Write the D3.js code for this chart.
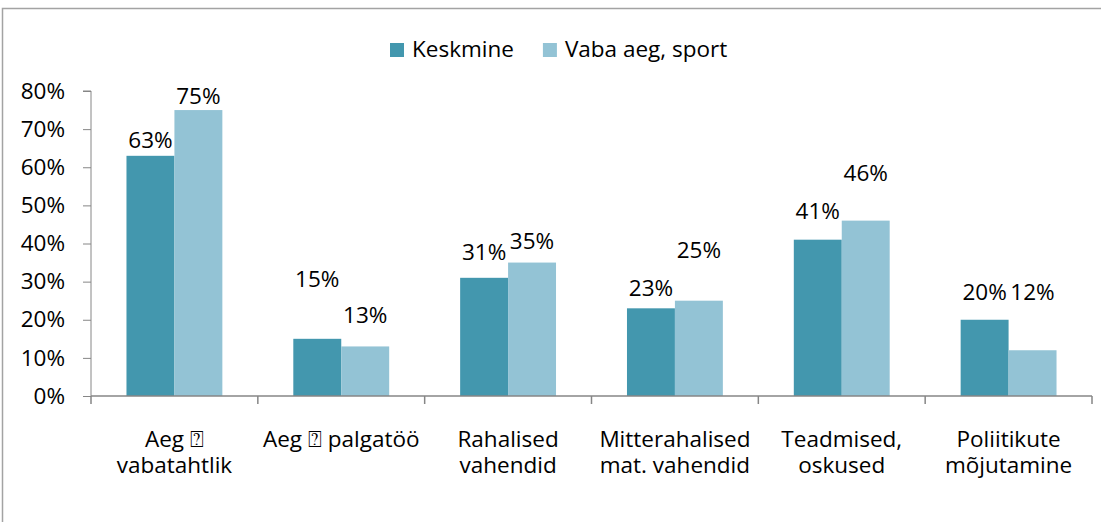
<!DOCTYPE html>
<html>
<head>
<meta charset="utf-8">
<script src="https://cdn.jsdelivr.net/npm/d3@7"></script>
<style>
    html, body { margin: 0; padding: 0; background: #fff; }
    #chart-area { width: 1101px; height: 522px; }
    text { font-family: "Open Sans", Lato, sans-serif; fill: #000; }
</style>
</head>
<body>
<div id="chart-area"></div>
<script>
// chart data
const categories = [
    ['Aeg \u2370', 'vabatahtlik'],
    ['Aeg \u2370 palgatöö'],
    ['Rahalised', 'vahendid'],
    ['Mitterahalised', 'mat. vahendid'],
    ['Teadmised,', 'oskused'],
    ['Poliitikute', 'mõjutamine']
];
const seriesNames = ['Keskmine', 'Vaba aeg, sport'];
const keskmine = [63, 15, 31, 23, 41, 20];
const vabaAeg = [75, 13, 35, 25, 46, 12];
const yTicks = [0, 10, 20, 30, 40, 50, 60, 70, 80];

// label placement (px between bar top and label baseline), as in the original
const labelGapKeskmine = [8, 52, 18, 12, 21, 20];
const labelGapVabaAeg = [6, 23, 14, 43, 40, 50];

;(function () {
    'use strict';

    const WIDTH = 1101;
    const HEIGHT = 522;
    const PLOT = {left: 91, right: 1092, top: 91, bottom: 396};
    const colors = ['#4397ae', '#93c3d5'];
    const FONT = 22.5;

    const svg = d3.select('#chart-area').append('svg')
        .attr('width', WIDTH)
        .attr('height', HEIGHT);

    // outer frame (cut off at the right and bottom)
    svg.append('path')
        .attr('d', `M2.5,${HEIGHT} V8.5 H${WIDTH}`)
        .attr('fill', 'none')
        .attr('stroke', '#a3a3a3')
        .attr('stroke-width', 1.5);

    const x0 = d3.scaleBand()
        .domain(d3.range(categories.length))
        .range([PLOT.left, PLOT.right]);

    const x1 = d3.scaleBand()
        .domain(seriesNames)
        .range([0, x0.bandwidth()])
        .paddingInner(0)
        .paddingOuter(0.74);

    const y = d3.scaleLinear()
        .domain([0, 80])
        .range([PLOT.bottom, PLOT.top]);

    // y axis
    const yAxisGroup = svg.append('g')
        .attr('transform', `translate(${PLOT.left}, 0)`)
        .call(d3.axisLeft(y).tickValues(yTicks).tickSize(8).tickPadding(18).tickFormat(d => d + '%'));
    yAxisGroup.selectAll('line, path').attr('stroke', '#868686');
    yAxisGroup.select('.domain').attr('d', `M-8,${PLOT.top}H0V${PLOT.bottom}`);
    yAxisGroup.selectAll('text')
        .attr('font-size', FONT)
        .attr('font-family', '"Open Sans", sans-serif')
        .attr('fill', '#000');

    // bars
    const data = [keskmine, vabaAeg];
    const gaps = [labelGapKeskmine, labelGapVabaAeg];

    const groups = svg.selectAll('g.cat')
        .data(categories)
        .enter()
        .append('g')
        .attr('class', 'cat')
        .attr('transform', (d, i) => `translate(${x0(i)}, 0)`);

    groups.each(function (cat, i) {
        const g = d3.select(this);
        seriesNames.forEach((s, j) => {
            const v = data[j][i];
            g.append('rect')
                .attr('x', x1(s))
                .attr('y', y(v))
                .attr('width', x1.bandwidth())
                .attr('height', y(0) - y(v))
                .attr('fill', colors[j]);
            g.append('text')
                .attr('x', x1(s) + x1.bandwidth() / 2)
                .attr('y', y(v) - gaps[j][i])
                .attr('text-anchor', 'middle')
                .attr('font-size', FONT)
                .text(v + '%');
        });
    });

    // x axis
    svg.append('path')
        .attr('d', `M${PLOT.left},${PLOT.bottom}H${PLOT.right}`)
        .attr('stroke', '#868686')
        .attr('stroke-width', 1.5);
    svg.selectAll('line.xtick')
        .data(d3.range(categories.length + 1))
        .enter()
        .append('line')
        .attr('class', 'xtick')
        .attr('x1', i => i < categories.length ? x0(i) : PLOT.right)
        .attr('x2', i => i < categories.length ? x0(i) : PLOT.right)
        .attr('y1', PLOT.bottom)
        .attr('y2', PLOT.bottom + 8)
        .attr('stroke', '#868686')
        .attr('stroke-width', 1.5);

    groups.append('text')
        .attr('text-anchor', 'middle')
        .attr('font-size', FONT)
        .attr('x', x0.bandwidth() / 2)
        .attr('y', 447)
        .selectAll('tspan')
        .data(d => d)
        .enter()
        .append('tspan')
        .attr('x', x0.bandwidth() / 2)
        .attr('dy', (d, k) => k === 0 ? 0 : 26)
        .text(d => d);

    // legend
    const legend = svg.append('g')
        .attr('class', 'legend');
    let lx = 390;
    seriesNames.forEach((s, j) => {
        legend.append('rect')
            .attr('x', lx)
            .attr('y', 43)
            .attr('width', 14)
            .attr('height', 14)
            .attr('fill', colors[j]);
        const t = legend.append('text')
            .attr('x', lx + 22)
            .attr('y', 57)
            .attr('font-size', FONT)
            .text(s);
        lx += 22 + t.node().getComputedTextLength() + 29;
    });
})();
</script>
</body>
</html>
